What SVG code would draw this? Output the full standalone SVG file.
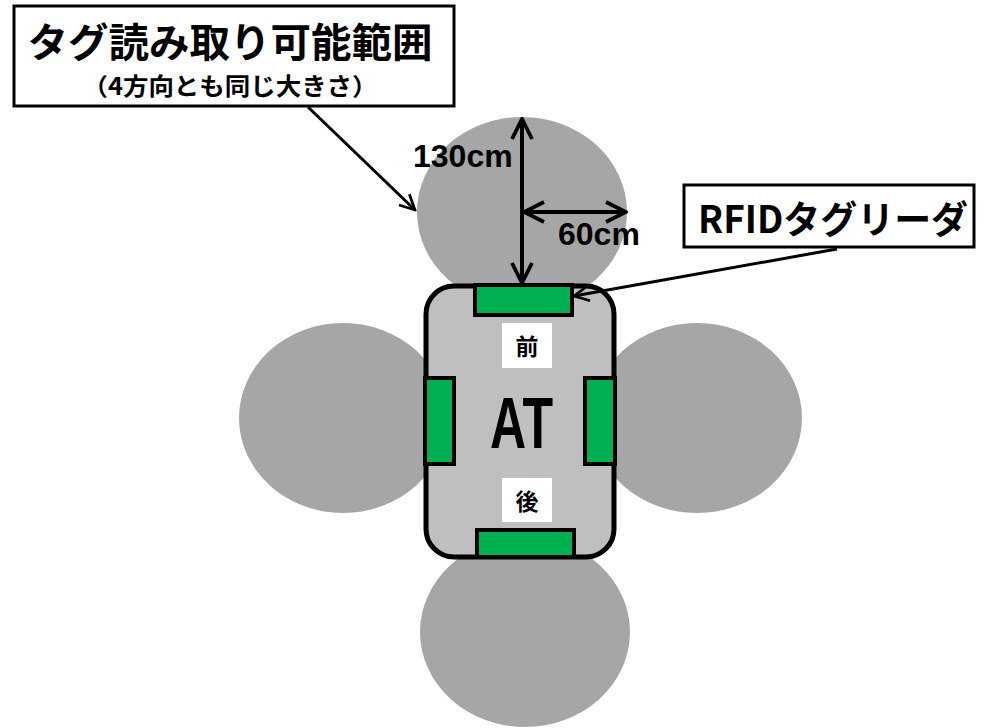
<svg xmlns="http://www.w3.org/2000/svg" width="1000" height="728" viewBox="0 0 1000 728">
<style>
.range{fill:#a6a6a6}
.pad{fill:#00b050;stroke:#000;stroke-width:4}
.lbl{fill:#fff}
.box{fill:#fff;stroke:#000;stroke-width:3}
.jp{font-family:"Noto Sans CJK JP","Noto Sans CJK SC",sans-serif;font-weight:bold;fill:#000}
.lat{font-family:"Liberation Sans",Arial,sans-serif;font-weight:bold;fill:#000}
.ln{stroke:#000;fill:none}
</style>
<defs>
<marker id="ah" viewBox="0 0 12 12" refX="11" refY="6" markerWidth="18" markerHeight="18" markerUnits="userSpaceOnUse" orient="auto-start-reverse">
<path d="M1,1 L11,6 L1,11" fill="none" stroke="#000" stroke-width="1.8"/>
</marker>
<marker id="ahd" viewBox="0 0 12 12" refX="11" refY="6" markerWidth="24" markerHeight="24" markerUnits="userSpaceOnUse" orient="auto-start-reverse">
<path d="M1,1 L11,6 L1,11" fill="none" stroke="#000" stroke-width="1.9"/>
</marker>
</defs>
<g id="ranges">
<ellipse class="range" cx="522" cy="212" rx="105" ry="95"/>
<ellipse class="range" cx="343" cy="418" rx="104" ry="95"/>
<ellipse class="range" cx="697" cy="418" rx="105" ry="95"/>
<ellipse class="range" cx="525" cy="632" rx="105" ry="95"/>
</g>
<g id="at">
<rect x="426" y="286" width="188" height="271" rx="28" fill="#bfbfbf" stroke="#000" stroke-width="5"/>
<rect class="pad" x="475" y="285" width="97" height="30"/>
<rect class="pad" x="425" y="378" width="29" height="86"/>
<rect class="pad" x="585" y="378" width="30" height="86"/>
<rect class="pad" x="477" y="530" width="97" height="27"/>
<rect class="lbl" x="502" y="323" width="50" height="45"/>
<rect class="lbl" x="502" y="478" width="50" height="44"/>
<text class="jp" x="527" y="355" font-size="23" text-anchor="middle">前</text>
<text class="jp" x="527" y="510" font-size="23" text-anchor="middle">後</text>
<text class="lat" x="490" y="448" font-size="73" textLength="63" lengthAdjust="spacingAndGlyphs">AT</text>
</g>
<g id="title">
<rect class="box" x="14" y="6" width="440" height="100"/>
<text class="jp" x="230" y="57" font-size="40" text-anchor="middle" textLength="405" lengthAdjust="spacingAndGlyphs">タグ読み取り可能範囲</text>
<text class="jp" x="230" y="95" font-size="24" text-anchor="middle" textLength="295" lengthAdjust="spacingAndGlyphs">（4方向とも同じ大きさ）</text>
</g>
<g id="reader">
<rect class="box" x="684" y="185" width="290" height="62"/>
<text class="jp" x="833" y="233" font-size="38" text-anchor="middle" textLength="270" lengthAdjust="spacingAndGlyphs">RFIDタグリーダ</text>
</g>
<g id="dims">
<text class="lat" x="413" y="167" font-size="32">130cm</text>
<text class="lat" x="558" y="245" font-size="32">60cm</text>
</g>
<g id="connectors">
<line class="ln" x1="308" y1="107" x2="415" y2="210" stroke-width="3" marker-end="url(#ah)"/>
<line class="ln" x1="837" y1="249" x2="574" y2="296" stroke-width="3" marker-end="url(#ah)"/>
<line class="ln" x1="522" y1="119" x2="522" y2="283" stroke-width="4" marker-start="url(#ahd)" marker-end="url(#ahd)"/>
<line class="ln" x1="524" y1="212" x2="626" y2="212" stroke-width="4" marker-start="url(#ahd)" marker-end="url(#ahd)"/>
</g>
</svg>
